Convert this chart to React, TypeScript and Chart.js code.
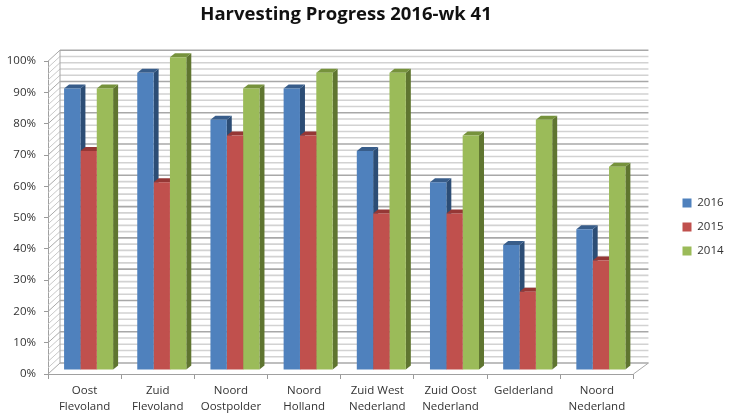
import React, { useEffect, useRef } from "react";
import { Chart, registerables } from "chart.js";

Chart.register(...registerables);

const categories = [
  ["Oost", "Flevoland"],
  ["Zuid", "Flevoland"],
  ["Noord", "Oostpolder"],
  ["Noord", "Holland"],
  ["Zuid West", "Nederland"],
  ["Zuid Oost", "Nederland"],
  ["Gelderland"],
  ["Noord", "Nederland"],
];
const values2016 = [90, 95, 80, 90, 70, 60, 40, 45];
const values2015 = [70, 60, 75, 75, 50, 50, 25, 35];
const values2014 = [90, 100, 90, 95, 95, 75, 80, 65];
const front = ["#4F81BD", "#C0504D", "#9BBB59"];
const side = ["#2C4D75", "#772C2A", "#5F7530"];
const top = ["#385D8A", "#953735", "#76923C"];
const WALL_DX = 12;
const WALL_DY = 11;
const BAR_DX = 4;
const BAR_DY = 4;
const DEPTH_X = 5;
const DEPTH_Y = 4;

const poly = (ctx: CanvasRenderingContext2D, pts: number[][], fill: string) => {
  ctx.beginPath();
  pts.forEach(([x, y], i) => (i ? ctx.lineTo(x, y) : ctx.moveTo(x, y)));
  ctx.closePath();
  ctx.fillStyle = fill;
  ctx.fill();
};

const threeD = {
  id: "threeD",
  afterLayout(chart: any) {
    const l = chart.legend;
    const dy = 227 - (l.top + l.bottom) / 2;
    l.top += dy; l.bottom += dy;
    const shift = 670 - l.left;
    l.left += shift; l.right += shift;
    const t = chart.titleBlock;
    const dx = 346 - (t.left + t.right) / 2;
    t.left += dx; t.right += dx;
  },
  beforeDatasetsDraw(chart: any) {
    const { ctx, scales } = chart;
    const x = scales.x, y = scales.y;
    const L = x.left, R = x.right;
    ctx.save();
    for (let v = 0; v <= 100; v += 2) {
      const py = y.getPixelForValue(v);
      const major = v % 10 === 0;
      ctx.strokeStyle = major ? "#A8A8A8" : "#D2D2D2";
      ctx.lineWidth = 1.6;
      ctx.beginPath();
      ctx.moveTo(L + WALL_DX, py - WALL_DY);
      ctx.lineTo(R + WALL_DX + 3, py - WALL_DY);
      ctx.stroke();
      ctx.lineWidth = 1;
      ctx.strokeStyle = major ? "#A8A8A8" : "#C8C8C8";
      ctx.beginPath();
      ctx.moveTo(L, py);
      ctx.lineTo(L + WALL_DX, py - WALL_DY);
      ctx.stroke();
    }
    ctx.strokeStyle = "#A8A8A8";
    ctx.lineWidth = 1;
    const b = y.getPixelForValue(0);
    const tp = y.getPixelForValue(100);
    ctx.beginPath();
    ctx.moveTo(L + WALL_DX, tp - WALL_DY);
    ctx.lineTo(L + WALL_DX, b - WALL_DY);
    ctx.moveTo(R, b);
    ctx.lineTo(R + WALL_DX + 3, b - WALL_DY);
    ctx.stroke();
    ctx.translate(BAR_DX, -BAR_DY);
    chart.data.datasets.forEach((_: any, di: number) => {
      chart.getDatasetMeta(di).data.forEach((bar: any) => {
        const r = bar.x + bar.width / 2;
        const l = bar.x - bar.width / 2;
        poly(ctx, [[r, bar.y], [r + DEPTH_X, bar.y - DEPTH_Y], [r + DEPTH_X, bar.base - DEPTH_Y], [r, bar.base]], side[di]);
        poly(ctx, [[l, bar.y], [l + DEPTH_X, bar.y - DEPTH_Y], [r + DEPTH_X, bar.y - DEPTH_Y], [r, bar.y]], top[di]);
      });
    });
    ctx.restore();
    ctx.save();
    ctx.translate(BAR_DX, -BAR_DY);
  },
  afterDatasetsDraw(chart: any) {
    chart.ctx.restore();
  },
};

export default function App() {
  const ref = useRef<HTMLCanvasElement>(null);
  useEffect(() => {
    const font = "'Open Sans', sans-serif";
    const make = (label: string, data: number[], i: number) => ({
      label, data, backgroundColor: front[i], borderWidth: 0, clip: false as any,
      categoryPercentage: 0.67, barPercentage: 1,
    });
    const chart = new Chart(ref.current!, {
      type: "bar",
      data: {
        labels: categories,
        datasets: [make("2016", values2016, 0), make("2015", values2015, 1), make("2014", values2014, 2)],
      },
      plugins: [threeD],
      options: {
        animation: false,
        responsive: false,
        devicePixelRatio: 1,
        layout: { padding: { left: 0, right: 36, top: 4, bottom: 0 } },
        plugins: {
          title: {
            display: true,
            text: "Harvesting Progress 2016-wk 41",
            color: "#111111",
            font: { family: "'Open Sans', sans-serif", size: 18.5, weight: "bold" },
            padding: { top: 0, bottom: 35 },
          },
          legend: {
            position: "right",
            labels: { boxWidth: 9, boxHeight: 9, padding: 12.5, color: "#333333", font: { family: font, size: 11.5 } },
          },
          tooltip: { enabled: false },
        },
        scales: {
          x: {
            grid: { drawOnChartArea: false, color: "#9A9A9A", tickLength: 5, offset: true },
            border: { color: "#A0A0A0", width: 1 },
            ticks: { color: "#333333", font: { family: font, size: 11.5, lineHeight: 1.4 }, maxRotation: 0, autoSkip: false, padding: 4 },
            afterFit: (s: any) => { s.height = 45; },
          },
          y: {
            min: 0,
            max: 100,
            grid: { drawOnChartArea: false, color: "#9A9A9A", tickLength: 4 },
            border: { color: "#A0A0A0", width: 1 },
            ticks: { stepSize: 10, color: "#333333", font: { family: font, size: 11.5 }, padding: 8, callback: (v: any) => v + "%" },
            afterFit: (s: any) => { s.width = 48; },
          },
        },
      },
    });
    return () => chart.destroy();
  }, []);
  return (
    <canvas
      ref={ref}
      width={733}
      height={419}
      style={{ position: "absolute", left: 0, top: 0, width: 733, height: 419, filter: "blur(0.4px)" }}
    />
  );
}
